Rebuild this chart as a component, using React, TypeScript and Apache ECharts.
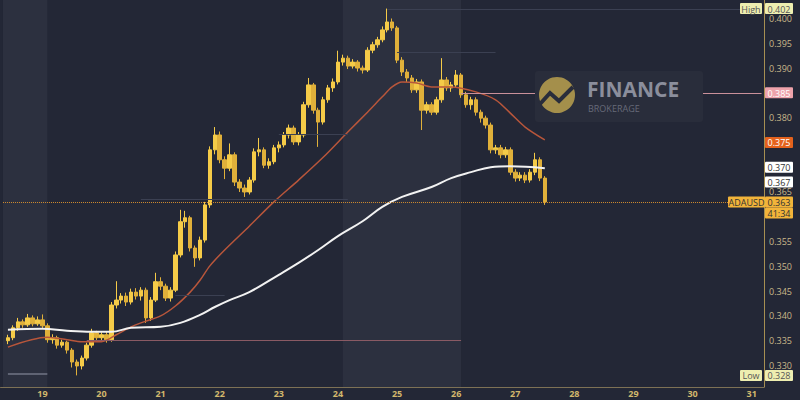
import React, { useEffect, useRef } from "react";
import * as echarts from "echarts";

// ---- time axis: 2-hour slots starting on the 18th at 08:00
const dayStart = 18;
const hourStart = 8;
const slotHours = 2;
const slotCount = 155;
const firstCandleSlot = 1;

// ---- candles (ADAUSD, 2h)
const opens = [
  0.3350, 0.3356, 0.3376, 0.3388, 0.3382, 0.3396, 0.3384, 0.3392, 0.3380, 0.3352,
  0.3356, 0.3341, 0.3347, 0.3331, 0.3307, 0.3299, 0.3315, 0.3341, 0.3366, 0.3356,
  0.3362, 0.3352, 0.3422, 0.3432, 0.3440, 0.3428, 0.3448, 0.3440, 0.3452, 0.3396,
  0.3432, 0.3469, 0.3460, 0.3436, 0.3452, 0.3523, 0.3590, 0.3598, 0.3537, 0.3517,
  0.3553, 0.3624, 0.3735, 0.3765, 0.3715, 0.3698, 0.3725, 0.3670, 0.3658, 0.3650,
  0.3674, 0.3731, 0.3735, 0.3704, 0.3711, 0.3739, 0.3745, 0.3765, 0.3779, 0.3751,
  0.3765, 0.3826, 0.3866, 0.3815, 0.3791, 0.3836, 0.3860, 0.3872, 0.3912, 0.3920,
  0.3904, 0.3912, 0.3900, 0.3896, 0.3936, 0.3947, 0.3957, 0.3977, 0.3993, 0.3981,
  0.3916, 0.3892, 0.3880, 0.3856, 0.3872, 0.3815, 0.3826, 0.3811, 0.3836, 0.3876,
  0.3860, 0.3866, 0.3886, 0.3846, 0.3826, 0.3836, 0.3811, 0.3799, 0.3785, 0.3735,
  0.3739, 0.3725, 0.3735, 0.3690, 0.3678, 0.3684, 0.3674, 0.3690, 0.3715, 0.3678,
];
const closes = [
  0.3356, 0.3376, 0.3388, 0.3382, 0.3396, 0.3384, 0.3392, 0.3380, 0.3352, 0.3356,
  0.3341, 0.3347, 0.3331, 0.3307, 0.3299, 0.3315, 0.3341, 0.3366, 0.3356, 0.3362,
  0.3352, 0.3422, 0.3432, 0.3440, 0.3428, 0.3448, 0.3440, 0.3452, 0.3396, 0.3432,
  0.3469, 0.3460, 0.3436, 0.3452, 0.3523, 0.3590, 0.3598, 0.3537, 0.3517, 0.3553,
  0.3624, 0.3735, 0.3765, 0.3715, 0.3698, 0.3725, 0.3670, 0.3658, 0.3650, 0.3674,
  0.3731, 0.3735, 0.3704, 0.3711, 0.3739, 0.3745, 0.3765, 0.3779, 0.3751, 0.3765,
  0.3826, 0.3866, 0.3815, 0.3791, 0.3836, 0.3860, 0.3872, 0.3912, 0.3920, 0.3904,
  0.3912, 0.3900, 0.3896, 0.3936, 0.3947, 0.3957, 0.3977, 0.3993, 0.3981, 0.3916,
  0.3892, 0.3880, 0.3856, 0.3872, 0.3815, 0.3826, 0.3811, 0.3836, 0.3876, 0.3860,
  0.3866, 0.3886, 0.3846, 0.3826, 0.3836, 0.3811, 0.3799, 0.3785, 0.3735, 0.3739,
  0.3725, 0.3735, 0.3690, 0.3678, 0.3684, 0.3674, 0.3690, 0.3715, 0.3678, 0.3630,
];
const lows = [
  0.3343, 0.3351, 0.3370, 0.3376, 0.3378, 0.3379, 0.3380, 0.3374, 0.3346, 0.3344,
  0.3334, 0.3336, 0.3324, 0.3296, 0.3280, 0.3292, 0.3310, 0.3336, 0.3349, 0.3350,
  0.3346, 0.3348, 0.3415, 0.3425, 0.3420, 0.3423, 0.3433, 0.3431, 0.3386, 0.3390,
  0.3428, 0.3452, 0.3430, 0.3429, 0.3448, 0.3518, 0.3578, 0.3530, 0.3499, 0.3512,
  0.3548, 0.3618, 0.3726, 0.3708, 0.3676, 0.3692, 0.3662, 0.3650, 0.3640, 0.3645,
  0.3669, 0.3722, 0.3698, 0.3697, 0.3706, 0.3730, 0.3740, 0.3758, 0.3745, 0.3744,
  0.3760, 0.3820, 0.3808, 0.3741, 0.3786, 0.3830, 0.3852, 0.3867, 0.3905, 0.3898,
  0.3899, 0.3893, 0.3889, 0.3892, 0.3930, 0.3941, 0.3952, 0.3972, 0.3975, 0.3910,
  0.3884, 0.3872, 0.3850, 0.3850, 0.3775, 0.3808, 0.3805, 0.3806, 0.3830, 0.3854,
  0.3852, 0.3860, 0.3840, 0.3820, 0.3816, 0.3804, 0.3790, 0.3778, 0.3728, 0.3727,
  0.3718, 0.3719, 0.3684, 0.3671, 0.3672, 0.3668, 0.3669, 0.3684, 0.3672, 0.3624,
];
const highs = [
  0.3362, 0.3381, 0.3396, 0.3393, 0.3404, 0.3401, 0.3399, 0.3403, 0.3385, 0.3363,
  0.3360, 0.3352, 0.3350, 0.3335, 0.3312, 0.3320, 0.3346, 0.3374, 0.3370, 0.3367,
  0.3368, 0.3428, 0.3470, 0.3446, 0.3447, 0.3455, 0.3456, 0.3458, 0.3457, 0.3438,
  0.3487, 0.3478, 0.3465, 0.3458, 0.3530, 0.3614, 0.3612, 0.3602, 0.3542, 0.3560,
  0.3630, 0.3742, 0.3781, 0.3772, 0.3722, 0.3748, 0.3730, 0.3676, 0.3665, 0.3680,
  0.3738, 0.3759, 0.3740, 0.3718, 0.3745, 0.3752, 0.3771, 0.3786, 0.3784, 0.3771,
  0.3832, 0.3880, 0.3870, 0.3820, 0.3842, 0.3866, 0.3879, 0.3935, 0.3927, 0.3925,
  0.3918, 0.3916, 0.3905, 0.3942, 0.3953, 0.3963, 0.3984, 0.4020, 0.4000, 0.3985,
  0.3922, 0.3898, 0.3886, 0.3878, 0.3877, 0.3832, 0.3831, 0.3842, 0.3920, 0.3882,
  0.3872, 0.3896, 0.3890, 0.3852, 0.3842, 0.3841, 0.3816, 0.3804, 0.3790, 0.3745,
  0.3745, 0.3741, 0.3740, 0.3696, 0.3690, 0.3690, 0.3696, 0.3729, 0.3720, 0.3682,
];

// ---- moving averages, read as [slot, value]
const maFast = [
  [1, 0.3337], [9, 0.3357], [13, 0.3352], [16, 0.3348], [20, 0.3348], [23, 0.3362],
  [26, 0.3378], [28, 0.3386], [32, 0.3400], [35, 0.3420], [38, 0.3448], [40, 0.3472],
  [42, 0.3501], [45, 0.3533], [50, 0.3581], [55, 0.3630], [60, 0.3674], [65, 0.3720],
  [70, 0.3771], [74, 0.3811], [77, 0.3842], [79, 0.3862], [81, 0.3872], [84, 0.3870],
  [87, 0.3862], [91, 0.3862], [96, 0.3852], [100, 0.3836], [103, 0.3809], [106, 0.3781],
  [110, 0.3755],
];
const maSlow = [
  [1, 0.3372], [8, 0.3374], [13, 0.3370], [18, 0.3368], [22, 0.3368], [26, 0.3376],
  [32, 0.3378], [36, 0.3386], [40, 0.3402], [43, 0.3418], [46, 0.3432], [50, 0.3448],
  [56, 0.3483], [60, 0.3507], [64, 0.3533], [68, 0.3561], [73, 0.3591], [77, 0.3620],
  [81, 0.3640], [87, 0.3660], [91, 0.3678], [95, 0.3690], [99, 0.3700], [103, 0.3702],
  [110, 0.3698],
];

// ---- drawn horizontal levels: [fromSlot, toSlot, price]
const levelStrong = [93, 154, 0.3850];
const levelSupport = [17, 93, 0.3351];
const levelLowBox = [1, 9, 0.3283];
const levelsFaint = [
  [35, 45, 0.3442],
  [28, 70, 0.3636],
  [56, 70, 0.3767],
  [80, 100, 0.3931],
  [78, 154, 0.4019],
];
// shaded sessions: [fromSlot, toSlot]
const sessions = [[0, 9], [69, 93]];

// ---- price scale tags
const highPrice = 0.402;
const lowPrice = 0.328;
const lastPrice = 0.363;
const countdown = "41:34";
const symbol = "ADAUSD";
const levelTag = 0.385;
const maFastTag = 0.375;
const maSlowTag = 0.37;
const extraTag = 0.367;
const hiddenTicks = [0.36, 0.385, 0.375, 0.37];

const yMin = 0.32566;
const yMax = 0.40373;

const categories: string[] = [];
for (let i = 0; i < slotCount; i++) {
  const t = hourStart + i * slotHours;
  categories.push(`${dayStart + Math.floor(t / 24)} ${t % 24}:00`);
}

const candleData = opens.map((o, i) => [firstCandleSlot + i, o, closes[i], lows[i], highs[i]]);

const seg = (l: number[], color: string, width = 1, type: any = "solid") => [
  { coord: [l[0], l[2]], lineStyle: { color, width, type } },
  { coord: [l[1], l[2]] },
];

export default function App() {
  const ref = useRef<HTMLDivElement>(null);
  useEffect(() => {
    if (!ref.current) return;
    const chart = echarts.init(ref.current, null, { renderer: "svg" });
    chart.setOption({
      animation: false,
      backgroundColor: "#232736",
      grid: { left: 0, right: 36, top: 0, bottom: 13 },
      xAxis: {
        type: "category",
        data: categories,
        boundaryGap: true,
        axisLine: { show: true, lineStyle: { color: "#7d7155", width: 1 } },
        axisTick: { show: false },
        splitLine: { show: false },
        axisLabel: {
          interval: 0,
          margin: 2,
          color: "#d2b76c",
          fontSize: 9,
          fontWeight: "bold",
          fontFamily: "Open Sans",
          formatter: (v: string) => (v.endsWith(" 0:00") ? v.split(" ")[0] : ""),
        },
      },
      yAxis: {
        type: "value",
        position: "right",
        min: yMin,
        max: yMax,
        splitNumber: 15,
        axisLine: { show: true, lineStyle: { color: "#a68f52", width: 1 } },
        axisTick: { show: false },
        splitLine: { show: false },
        axisLabel: {
          margin: 5,
          color: "#c9b88a",
          fontSize: 9,
          fontFamily: "Open Sans",
          showMinLabel: false,
          showMaxLabel: false,
          formatter: (v: number) =>
            hiddenTicks.some((h) => Math.abs(h - v) < 0.0004) ? "" : v.toFixed(3),
        },
      },
      series: [
        {
          type: "line",
          data: [],
          z: 1,
          silent: true,
          markArea: {
            silent: true,
            itemStyle: { color: "#2c303f" },
            data: sessions.map((s) => [{ xAxis: s[0] }, { xAxis: s[1] }]),
          },
          markLine: {
            silent: true,
            symbol: ["none", "none"],
            label: { show: false },
            data: [
              seg(levelStrong, "#c9909a", 1),
              seg(levelSupport, "#8a5a64", 1.2),
              seg(levelLowBox, "#5f6373", 2),
              ...levelsFaint.map((l) => seg(l, "#3b4052", 1)),
              seg([0, 154, lastPrice], "#d08b2e", 1, "dotted"),
            ],
          },
        },
        {
          type: "candlestick",
          data: candleData,
          encode: { x: 0, y: [1, 2, 3, 4] },
          barWidth: 4,
          z: 2,
          itemStyle: {
            color: "#f5cb48",
            color0: "#e0b03a",
            borderColor: "#f5cb48",
            borderColor0: "#e0b03a",
            borderWidth: 1,
          },
        },
        {
          type: "line",
          data: maFast,
          smooth: 0.3,
          showSymbol: false,
          z: 3,
          lineStyle: { color: "#b8563b", width: 1.5 },
        },
        {
          type: "line",
          data: maSlow,
          smooth: 0.4,
          showSymbol: false,
          z: 3,
          lineStyle: { color: "#f2f2f2", width: 2 },
        },
      ],
    });

    const yOf = (v: number) => chart.convertToPixel({ yAxisIndex: 0 }, v) as number;
    const H = 11;
    const box = (x: number, y: number, w: number, fill: string, text: string, color: string) => ({
      type: "group",
      z: 100,
      children: [
        { type: "rect", z: 100, shape: { x, y: y - H / 2, width: w, height: H, r: 1 }, style: { fill } },
        {
          type: "text",
          z: 101,
          style: {
            text,
            x: x + w / 2,
            y: y + 0.5,
            fill: color,
            font: '9px "Open Sans"',
            align: "center",
            verticalAlign: "middle",
          },
        },
      ],
    });
    const vx = 765;
    const vw = 28;
    const yLast = yOf(lastPrice);
    const graphic: any[] = [
      // watermark logo
      { type: "rect", z: 90, shape: { x: 535, y: 71, width: 168, height: 51, r: 3 }, style: { fill: "#292d3b" } },
      { type: "circle", z: 91, shape: { cx: 557, cy: 95, r: 18 }, style: { fill: "#a48f4b" } },
      {
        type: "polyline",
        z: 92,
        shape: { points: [[540, 104], [550, 93], [559, 101], [573, 87]] },
        style: { stroke: "#292d3b", lineWidth: 4, fill: null },
      },
      {
        type: "text",
        z: 92,
        style: { text: "FINANCE", x: 587, y: 89, fill: "#8b8e9c", font: 'bold 21px "Open Sans"', verticalAlign: "middle" },
      },
      {
        type: "text",
        z: 92,
        style: { text: "BROKERAGE", x: 588, y: 108, fill: "#676a79", font: '9px "Open Sans"', verticalAlign: "middle" },
      },
      // price tags
      box(740, yOf(highPrice), 22, "#eeeeb0", "High", "#555555"),
      box(vx, yOf(highPrice), vw, "#eeeeb0", highPrice.toFixed(3), "#555555"),
      box(vx, yOf(levelTag), vw, "#eea3ab", levelTag.toFixed(3), "#ffffff"),
      box(vx, yOf(maFastTag), vw, "#e4621d", maFastTag.toFixed(3), "#ffffff"),
      box(vx, yOf(maSlowTag), vw, "#ffffff", maSlowTag.toFixed(3), "#333333"),
      box(vx, yOf(extraTag), vw, "#ffffff", extraTag.toFixed(3), "#333333"),
      box(728, yLast, 37, "#f2b43a", symbol, "#333333"),
      box(vx, yLast, vw, "#f2b43a", lastPrice.toFixed(3), "#333333"),
      box(vx, yLast + H, vw, "#f2b43a", countdown, "#333333"),
      box(740, yOf(lowPrice), 22, "#eeeeb0", "Low", "#555555"),
      box(vx, yOf(lowPrice), vw, "#eeeeb0", lowPrice.toFixed(3), "#555555"),
    ];
    chart.setOption({ graphic });
    return () => chart.dispose();
  }, []);
  return (
    <div
      ref={ref}
      style={{ position: "absolute", left: 0, top: 0, width: 800, height: 400 }}
    />
  );
}
